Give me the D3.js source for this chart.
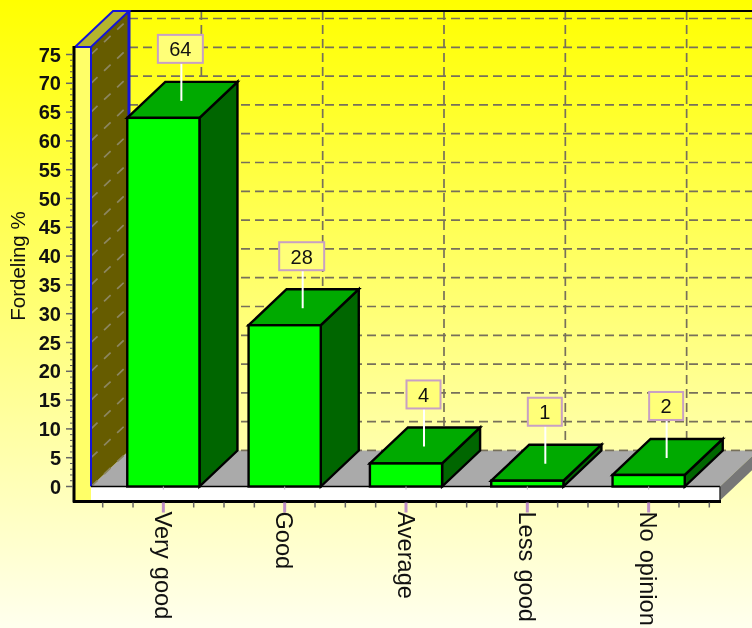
<!DOCTYPE html>
<html>
<head>
<meta charset="utf-8">
<script src="https://cdn.jsdelivr.net/npm/d3@7"></script>
<style>
html,body{margin:0;padding:0;background:#fff;}
svg{display:block;filter:blur(0.55px);}
text{font-family:"Liberation Sans",Arial,sans-serif;fill:#111;}
</style>
</head>
<body>
<svg id="c" width="752" height="628"></svg>
<script>
const categories = ["Very good", "Good", "Average", "Less good", "No opinion"];
const values = [64, 28, 4, 1, 2];
const yTickLabels = [0,5,10,15,20,25,30,35,40,45,50,55,60,65,70,75];
const yMinorTicks = d3.range(0,76);
const yTitle = "Fordeling %";

const W=752,H=628;
const dx=38,dy=-36;
const y0=486.5;
const y=d3.scaleLinear().domain([0,75]).range([y0,54.5]);
const wallTop=47;
const left=91,right=720,stripH=14;
const x=d3.scaleBand().domain(categories).range([103,709]).paddingInner(0.405).paddingOuter(0.2);
const step=x.step();
const cx=c=>x(c)+x.bandwidth()/2;

const svg=d3.select("#c");
const defs=svg.append("defs");
const g=defs.append("linearGradient").attr("id","bg").attr("x1",0).attr("x2",0).attr("y1",0).attr("y2",1);
g.append("stop").attr("offset","0%").attr("stop-color","#ffff00");
g.append("stop").attr("offset","100%").attr("stop-color","#ffffee");
svg.append("rect").attr("width",W).attr("height",H).attr("fill","url(#bg)");

const poly=(pts,fill,stroke,sw)=>svg.append("polygon").attr("points",pts.map(p=>p.join(",")).join(" ")).attr("fill",fill).attr("stroke",stroke||"none").attr("stroke-width",sw||0).attr("stroke-linejoin","miter");
const line=(x1,y1,x2,y2,col,sw,dash)=>svg.append("line").attr("x1",x1).attr("y1",y1).attr("x2",x2).attr("y2",y2).attr("stroke",col).attr("stroke-width",sw).attr("stroke-dasharray",dash||null);

const backX=left+dx;
const backTop=wallTop+dy;
const grid="#77705a",dash="9,5";
// back wall grid
yTickLabels.forEach(t=>line(backX,y(t)+dy,W,y(t)+dy,grid,1.7,dash));
categories.forEach(c=>line(cx(c)+dx,backTop,cx(c)+dx,y0+dy,grid,1.7,dash));
line(backX-1,backTop,W,backTop,"#000",2);

// floor
poly([[left,y0],[backX,y0+dy],[right+dx,y0+dy],[right,y0]],"#aaaaaa");
line(backX,y0+dy,W,y0+dy,grid,1.7,dash);
// floor right side
poly([[right,y0],[right+dx,y0+dy],[right+dx,y0+dy+stripH],[right,y0+stripH]],"#777777");

// left side wall
poly([[left,wallTop],[backX,backTop],[backX,y0+dy],[left,y0]],"#665c00");
yTickLabels.forEach(t=>line(left,y(t),backX,y(t)+dy,"#8c8660",1.7,"9,9"));
// wall top
poly([[75,wallTop],[left,wallTop],[backX,backTop],[75+dx,backTop]],"#b5b52c","#1414d8",2);
// wall front
svg.append("rect").attr("x",75).attr("y",wallTop).attr("width",left-75).attr("height",y0+stripH-wallTop).attr("fill","#ffff68");
line(left,wallTop,left,y0,"#1414d8",2);
line(backX,backTop,backX,y0+dy,"#1414d8",3);
line(75,wallTop,left,wallTop,"#1414d8",2);
// floor strip
svg.append("rect").attr("x",left).attr("y",y0).attr("width",right-left).attr("height",stripH).attr("fill","#fff");
line(left,y0,right,y0,"#000",1.5);
line(right,y0,right,y0+stripH+2,"#333",1.5);

// bars
categories.forEach((c,i)=>{
  const v=values[i],a=x(c),b=a+x.bandwidth(),t=y(v);
  poly([[b,t],[b+dx,t+dy],[b+dx,y0+dy],[b,y0]],"#006600","#000",2.4);
  poly([[a,t],[a+dx,t+dy],[b+dx,t+dy],[b,t]],"#00aa00","#000",2.4);
  svg.append("rect").attr("x",a).attr("y",t).attr("width",b-a).attr("height",y0-t).attr("fill","#00ff00").attr("stroke","#000").attr("stroke-width",2.4);
});

// axis frame
line(74,wallTop-1,74,y0+stripH+2,"#000",3);
line(73,y0+stripH+1,right+1,y0+stripH+1,"#000",3);

// y axis ticks
yMinorTicks.forEach(t=>line(70,y(t),73,y(t),"#555",1));
yTickLabels.forEach(t=>line(66,y(t),73,y(t),"#666",1.5));
svg.append("g").selectAll("text").data(yTickLabels).join("text")
  .attr("x",61).attr("y",t=>y(t)+7).attr("text-anchor","end")
  .attr("font-size",20).attr("font-weight","bold").text(t=>t);

// x ticks
const minor=step/4;
categories.forEach(c=>{
  [-2,-1,1].forEach(k=>{const px=cx(c)+k*minor;line(px,y0+stripH+2,px,y0+stripH+7,"#666",1.5);});
  line(cx(c),y0+stripH+2,cx(c),y0+stripH+12,"#c090c8",3);
  line(cx(c),y0,cx(c),y0+3,"#bbb",1);
});
line(cx(categories[4])+2*minor,y0+stripH+2,cx(categories[4])+2*minor,y0+stripH+7,"#666",1.5);

// x labels
svg.append("g").selectAll("text").data(categories).join("text")
  .attr("transform",c=>`translate(${cx(c)-8.5},511.5) rotate(90)`)
  .attr("font-size",23.6).attr("word-spacing",1.5).text(c=>c);

// y title
svg.append("text").attr("transform","translate(25,266) rotate(-90)").attr("text-anchor","middle")
  .attr("font-size",20.5).text(yTitle);

// labels
categories.forEach((c,i)=>{
  const v=values[i],t=y(v),lx=cx(c)+18,two=String(v).length>1,w=two?45:34;
  line(lx,t-55,lx,t-17,"#fff",2);
  svg.append("rect").attr("x",lx-w/2-(two?1:0.5)).attr("y",t-83).attr("width",w).attr("height",28)
    .attr("fill","#ffff78").attr("stroke","#c8a0c4").attr("stroke-width",2);
  svg.append("text").attr("x",lx-(two?1:0.5)).attr("y",t-61.5).attr("text-anchor","middle").attr("font-size",20).text(v);
});
</script>
</body>
</html>
